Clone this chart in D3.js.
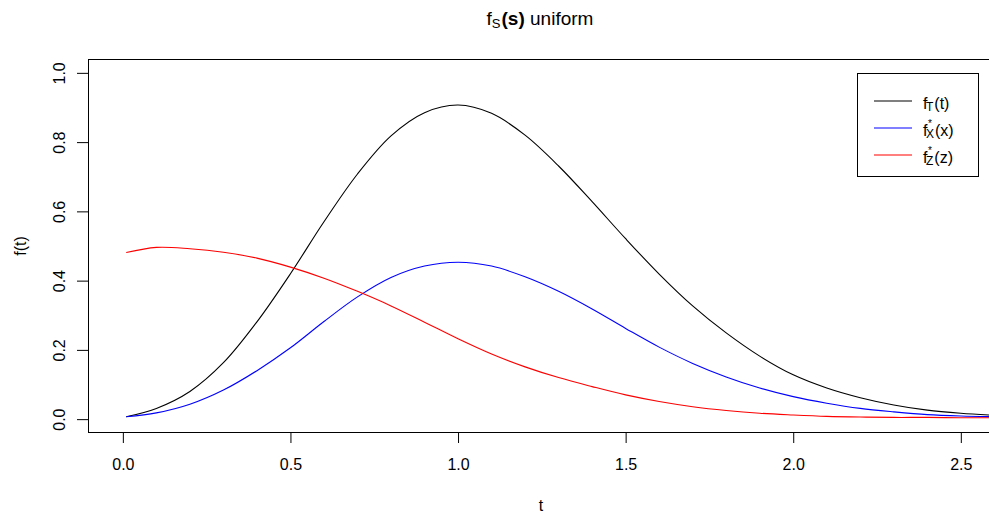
<!DOCTYPE html>
<html>
<head>
<meta charset="utf-8">
<script src="https://cdn.jsdelivr.net/npm/d3@7"></script>
<style>
  body { margin: 0; background: #fff; overflow: hidden; }
  text { font-family: "Liberation Sans", Arial, sans-serif; fill: #000; }
</style>
</head>
<body>
<div id="container"></div>
<script>
// values
var tVals = [0.01, 0.1, 0.2, 0.3, 0.4, 0.5, 0.6, 0.7, 0.8, 0.9, 1.0, 1.1, 1.2, 1.3,
             1.4, 1.5, 1.6, 1.7, 1.8, 1.9, 2.0, 2.1, 2.2, 2.3, 2.4, 2.5, 2.6];
var fT = [0.007, 0.031, 0.08, 0.163, 0.281, 0.42, 0.57, 0.708, 0.818, 0.885, 0.907, 0.883, 0.82, 0.731,
          0.628, 0.521, 0.419, 0.327, 0.249, 0.182, 0.128, 0.09, 0.062, 0.041, 0.026, 0.017, 0.011];
var fX = [0.007, 0.018, 0.043, 0.084, 0.14, 0.206, 0.282, 0.353, 0.409, 0.442, 0.453, 0.442, 0.411, 0.369,
          0.318, 0.262, 0.208, 0.161, 0.122, 0.09, 0.065, 0.046, 0.031, 0.021, 0.013, 0.009, 0.007];
var fZ = [0.481, 0.496, 0.492, 0.482, 0.465, 0.439, 0.407, 0.369, 0.327, 0.28, 0.232, 0.188, 0.151, 0.12,
          0.094, 0.07, 0.051, 0.036, 0.025, 0.017, 0.012, 0.008, 0.006, 0.005, 0.005, 0.004, 0.004];

var xTicks = [0, 0.5, 1.0, 1.5, 2.0, 2.5];
var yTicks = [0, 0.2, 0.4, 0.6, 0.8, 1.0];

var seriesColors = ["#000000", "#0000ff", "#ff0000"];
var legendSub = ["T", "X", "Z"];
var legendSup = ["", "*", "*"];
var legendArg = ["(t)", "(x)", "(z)"];

// set the dimensions and margins of the graph
var margin = {top: 59, right: 0, bottom: 83, left: 88},
    width = 905,
    height = 374;

var svg = d3.select("#container")
  .append("svg")
    .attr("width", 989)
    .attr("height", 516);

// title
var title = svg.append("text")
    .attr("x", 540)
    .attr("y", 25)
    .attr("text-anchor", "middle")
    .style("font-size", "19px");
title.append("tspan").text("f");
title.append("tspan").attr("dy", 3).style("font-size", "13px").text("S");
title.append("tspan").attr("dy", -3).attr("dx", 1).style("font-weight", "bold").text("(s)");
title.append("tspan").text(" uniform");

var g = svg.append("g")
    .attr("transform", "translate(" + margin.left + "," + margin.top + ")");

var x = d3.scaleLinear()
  .domain([-0.104, 2.596])
  .range([0, width]);

var y = d3.scaleLinear()
  .domain([-0.04, 1.04])
  .range([height, 0]);

g.append("defs").append("clipPath").attr("id", "plotclip")
  .append("rect").attr("x", 0).attr("y", 0).attr("width", width).attr("height", height);

// X axis
var xAxis = g.append("g")
  .attr("transform", "translate(0," + height + ")")
  .call(d3.axisBottom(x).tickValues(xTicks).tickSize(10).tickFormat(d3.format(".1f")));
xAxis.select(".domain").remove();
xAxis.selectAll("text")
  .attr("y", 37)
  .attr("dy", 0)
  .style("font-size", "16px")
  .style("font-family", "Liberation Sans");
xAxis.selectAll("line").attr("stroke", "#000");

// Y axis
var yAxis = g.append("g")
  .call(d3.axisLeft(y).tickValues(yTicks).tickSize(11).tickFormat(d3.format(".1f")));
yAxis.select(".domain").remove();
yAxis.selectAll("text")
  .attr("x", 0)
  .attr("y", 0)
  .attr("dy", 0)
  .attr("text-anchor", "middle")
  .attr("transform", "translate(-23,0) rotate(-90)")
  .style("font-size", "16px")
  .style("font-family", "Liberation Sans");
yAxis.selectAll("line").attr("stroke", "#000");

// box
g.append("rect")
  .attr("x", 0.5)
  .attr("y", 0.5)
  .attr("width", width)
  .attr("height", height - 1)
  .attr("fill", "none")
  .attr("stroke", "#000")
  .attr("stroke-width", 1);

// axis titles
svg.append("text")
  .attr("x", 541)
  .attr("y", 511)
  .attr("text-anchor", "middle")
  .style("font-size", "16px")
  .text("t");

svg.append("text")
  .attr("transform", "translate(26,246) rotate(-90)")
  .attr("text-anchor", "middle")
  .style("font-size", "16px")
  .text("f(t)");

// curves
var line = d3.line()
  .x(function(d) { return x(d[0]); })
  .y(function(d) { return y(d[1]); })
  .curve(d3.curveCatmullRom.alpha(0.5));

[fT, fX, fZ].forEach(function(vals, i) {
  g.append("path")
    .datum(tVals.map(function(t, k) { return [t, vals[k]]; }))
    .attr("clip-path", "url(#plotclip)")
    .attr("fill", "none")
    .attr("stroke", seriesColors[i])
    .attr("stroke-width", 1.1)
    .attr("d", line);
});

// legend
var legend = svg.append("g");
legend.append("rect")
  .attr("x", 857.5)
  .attr("y", 73.5)
  .attr("width", 121)
  .attr("height", 103)
  .attr("fill", "#fff")
  .attr("stroke", "#000");

var rowY = [101, 128, 155];
legendSub.forEach(function(sub, i) {
  var cy = rowY[i];
  legend.append("line")
    .attr("x1", 874).attr("x2", 912)
    .attr("y1", cy).attr("y2", cy)
    .attr("stroke", seriesColors[i])
    .attr("stroke-width", 1.1);

  var base = cy + 7.5;
  var fx = 923;
  var f = legend.append("text")
    .attr("x", fx).attr("y", base)
    .style("font-size", "16px")
    .text("f");
  var fw = f.node().getComputedTextLength();
  var sx = fx + fw - 1.5;
  var s = legend.append("text")
    .attr("x", sx).attr("y", base + 2.5)
    .style("font-size", "12px")
    .text(sub);
  var sw = s.node().getComputedTextLength();
  if (legendSup[i]) {
    legend.append("text")
      .attr("x", sx + 2).attr("y", base - 9)
      .style("font-size", "10px")
      .text(legendSup[i]);
  }
  legend.append("text")
    .attr("x", sx + sw + 1).attr("y", base)
    .style("font-size", "16px")
    .text(legendArg[i]);
});
</script>
</body>
</html>
